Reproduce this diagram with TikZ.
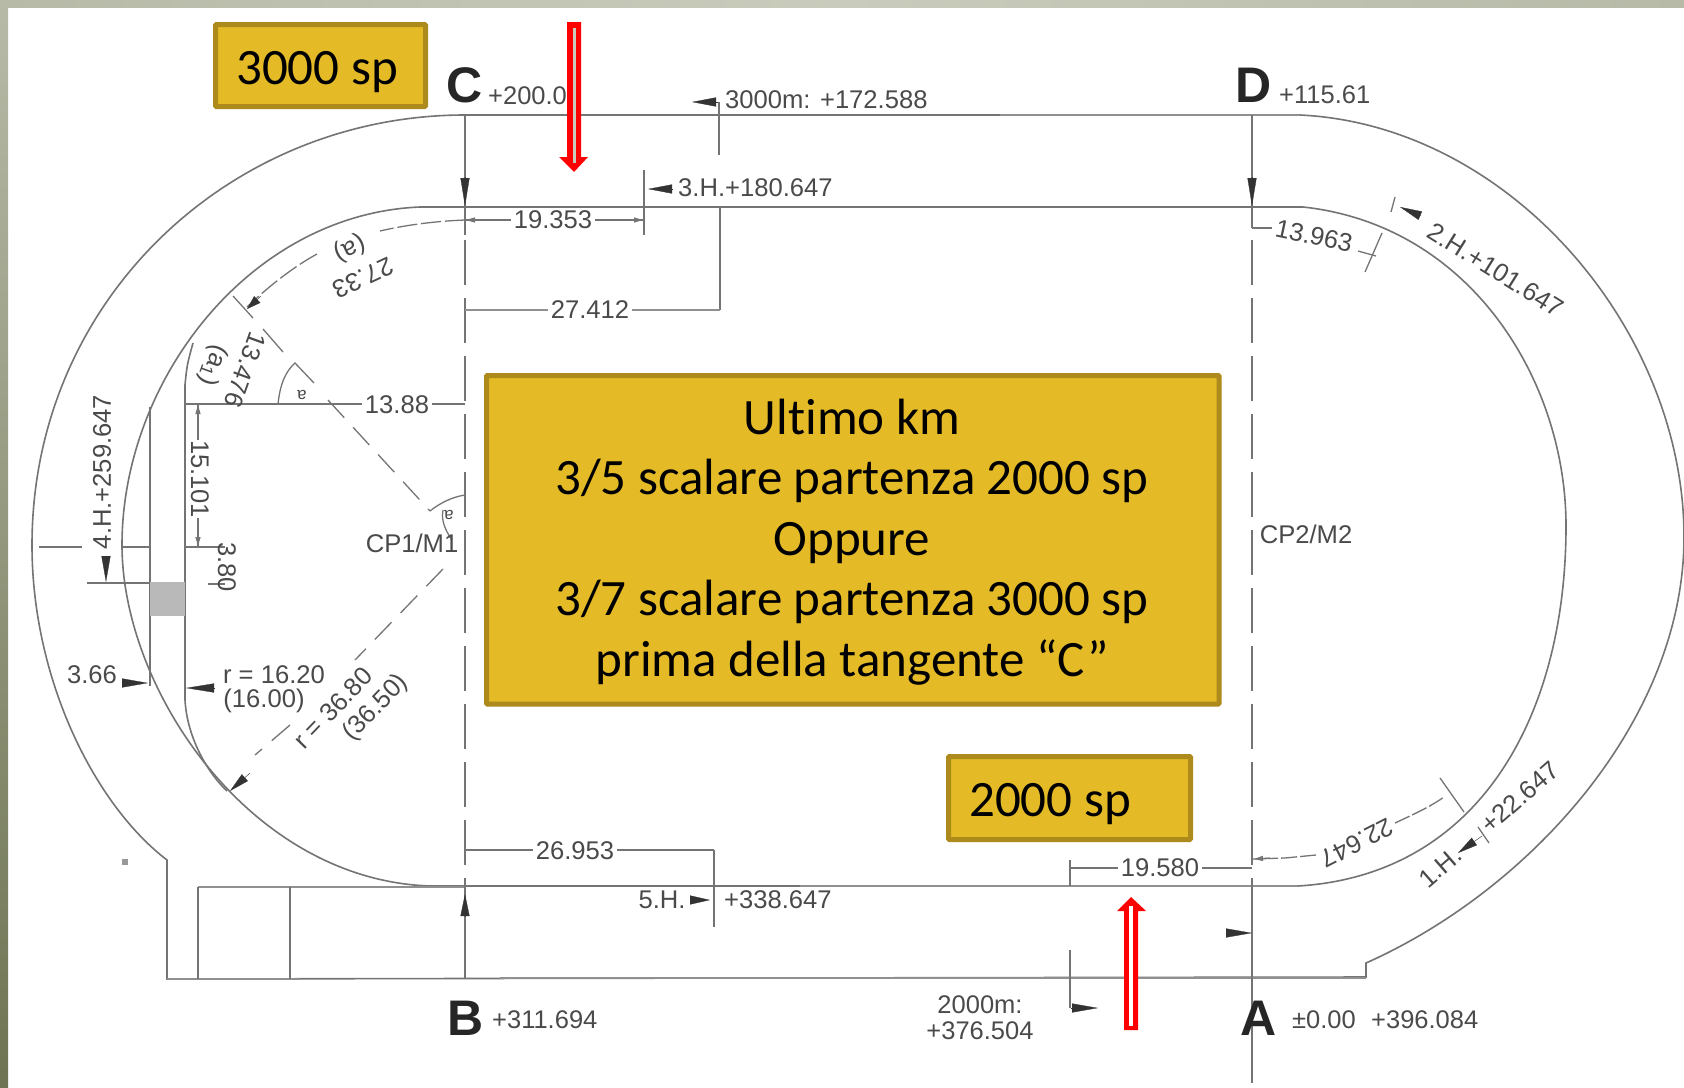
\documentclass[tikz,border=0pt]{standalone}
\usepackage{fontspec}
\setmainfont{Liberation Sans}
\newfontfamily\boxfont[Ligatures=NoCommon]{Carlito}
\usetikzlibrary{arrows.meta}
\definecolor{lbltxt}{HTML}{4A4A4A}
\definecolor{trackline}{HTML}{747474}
\definecolor{boxfill}{HTML}{E4BB27}
\definecolor{boxedge}{HTML}{AC8A1C}
\definecolor{bandtop}{HTML}{B7BAA7}
\definecolor{bandmid}{HTML}{C9CBBC}
\definecolor{bandbot}{HTML}{6E7453}
\tikzset{
 x=1pt,y=-1pt,
 lbl/.style={font=\fontsize{25.6}{28}\selectfont,text=lbltxt,inner sep=0pt},
 smalllbl/.style={font=\fontsize{25.5}{28}\selectfont,text=lbltxt,inner sep=0pt},
 letter/.style={font=\fontsize{50}{50}\selectfont\bfseries,text=black!85,inner sep=0pt},
 track/.style={draw=trackline,line width=1.6pt},
 thin line/.style={draw=trackline,line width=1.3pt},
 heavy line/.style={draw=trackline!80,line width=2.6pt},
 axis line/.style={draw=trackline,line width=1.4pt,dash pattern=on 45pt off 13pt},
 radial/.style={draw=trackline,line width=1.3pt,dash pattern=on 24pt off 13pt},
 wedgetip/.style={draw=black!80,fill=black!80,line width=0.3pt,-{Triangle[length=#1,width=9pt]}},
 wedgetip/.default=24pt,
 smalltip/.style={draw=trackline,line width=1.2pt,-{Triangle[length=9pt,width=5pt]}},
 yellowbox/.style={draw=boxedge,fill=boxfill,line width=5pt,rounded corners=1pt},
 boxtext/.style={font=\boxfont\fontsize{51}{60.6}\selectfont,text=black,inner sep=0pt}
}
\begin{document}
\begin{tikzpicture}
\path[use as bounding box] (0,0) rectangle (1684,1087);
\fill[white] (0,0) rectangle (1684,1087);
% slide frame
\shade[top color=bandtop,bottom color=bandbot] (0,0) rectangle (8,1087);
\shade[left color=bandtop,right color=bandtop,middle color=bandmid] (0,0) rectangle (1684,7);
% outer track
\draw[track] (1300,115) -- (465,115) .. controls (230,115) and (32,300) .. (32,545) .. controls (32,680) and (95,805) .. (167,860) -- (167,979) -- (1366,977) -- (1366,963) .. controls (1530,890) and (1684,720) .. (1684,537) .. controls (1684,330) and (1510,125) .. (1300,115);
\draw[heavy line,line width=1.8pt] (1000,115) -- (1300,115);
% inner track
\draw[track] (1303,207) -- (420,207) .. controls (250,214) and (122,380) .. (122,545) .. controls (122,690) and (250,880) .. (430,886) -- (1298,886) .. controls (1480,875) and (1566,715) .. (1566,526) .. controls (1566,380) and (1470,225) .. (1303,207);
\draw[heavy line] (800,886) -- (1298,886);
\draw[heavy line] (167,979) -- (300,979);
\draw[heavy line] (500,978) -- (1366,978);
% inner lane
\draw[track] (193,343) .. controls (187,365) .. (185,385) -- (185,700) .. controls (187,735) and (205,770) .. (227,791);
\draw[thin line] (150,407) -- (150,686);
\fill[gray!55] (150,582) rectangle (185,616);
\draw[heavy line] (198,887) -- (465,887);
\draw[thin line] (198,887) -- (198,979);
\draw[thin line] (290,887) -- (290,979);
\fill[gray!80] (122,859) rectangle (128,865);
% axes
\draw[thin line] (465,115) -- (465,235);
\draw[axis line] (465,240) -- (465,886);
\draw[thin line] (465,886) -- (465,979);
\draw[thin line] (1252,115) -- (1252,228);
\draw[axis line] (1252,240) -- (1252,886);
\draw[thin line] (1252,886) -- (1252,1083);
% top dimensions
\draw[thin line] (719,102) -- (719,155);
\draw[thin line] (720,207) -- (720,310);
\draw[heavy line,line width=2pt] (465,310) -- (720,310);
\draw[thin line] (644,170) -- (644,235);
\draw[thin line] (465,220) -- (644,220);
\draw[smalltip] (480,220) -- (466,220);
\draw[smalltip] (630,220) -- (643,220);
\draw[wedgetip] (718,102) -- (692,102);
\draw[wedgetip] (672,189) -- (648,189);
\draw[wedgetip=28pt] (465,177) -- (465,206);
\draw[wedgetip=28pt] (1252,177) -- (1252,206);
% arc dimension at C
\draw[radial,dash pattern=on 20pt off 4pt] (465,220) .. controls (440,221) and (410,224) .. (380,231);
\draw[radial,dash pattern=on 20pt off 4pt] (317,254) .. controls (295,266) and (270,285) .. (247,307);
\draw[wedgetip=14pt] (261,296) -- (247,309);
\draw[thin line] (233,296) -- (253,318);
\draw[thin line] (263,329) -- (283,352);
\draw[thin line] (185,404) -- (465,404);
\draw[thin line] (278,404) .. controls (280,385) and (285,372) .. (295,363) -- (314,383);
\draw[radial] (328,400) -- (430,511);
\draw[thin line] (430,511) .. controls (440,503) and (452,497) .. (465,495);
\draw[thin line] (443,510) .. controls (441,520) and (445,530) .. (452,540);
\draw[radial] (443,569) -- (355,660);
\draw[radial] (290,725) -- (255,755);
\draw[wedgetip=20pt] (250,773) -- (230,791);
% left dimensions
\draw[thin line] (198,404) -- (198,547);
\draw[smalltip] (198,420) -- (198,405);
\draw[smalltip] (198,532) -- (198,546);
\draw[thin line] (39,547) -- (82,547);
\draw[thin line] (123,547) -- (150,547);
\draw[thin line] (185,547) -- (225,547);
\draw[thin line] (208,584) -- (225,584);
\draw[thin line] (87,583) -- (150,583);
\draw[wedgetip=26pt] (106,556) -- (106,582);
\draw[wedgetip=26pt] (122,683) -- (148,683);
\draw[wedgetip=28pt] (214,688) -- (186,688);
% right dimensions
\draw[thin line] (1252,228) -- (1272,228);
\draw[thin line] (1358,251) -- (1376,256);
\draw[thin line] (1382,233) -- (1365,272);
\draw[thin line] (1395,197) -- (1391,212);
\draw[wedgetip=22pt] (1421,216) -- (1400,207);
% bottom dimensions
\draw[thin line] (465,850) -- (714,850);
\draw[thin line] (714,850) -- (714,927);
\draw[wedgetip=20pt] (690,900) -- (710,900);
\draw[wedgetip=22pt] (465,916) -- (465,894);
\draw[thin line] (1070,868) -- (1252,868);
\draw[thin line] (1070,860) -- (1070,886);
\draw[thin line] (1070,950) -- (1070,1008);
\draw[wedgetip=26pt] (1071,1008) -- (1098,1008);
\draw[wedgetip=26pt] (1226,933) -- (1252,933);
\draw[radial,dash pattern=on 16pt off 3pt] (1316,855) -- (1285,858) -- (1253,859);
\draw[smalltip] (1270,858) -- (1254,859);
\draw[radial,dash pattern=on 16pt off 3pt] (1395,823) .. controls (1412,815) and (1430,807) .. (1444,797);
\draw[thin line] (1440,778) -- (1464,812);
\draw[wedgetip=20pt] (1482,836) -- (1458,853);
\draw[thin line] (1478,827) -- (1489,843);
% labels
\node[letter] (lC) at (465,85) {C};
\node[letter] (lD) at (1254,85) {D};
\node[letter] (lB) at (466,1018) {B};
\node[letter] (lA) at (1259,1018) {A};
\node[smalllbl,anchor=west] (n200) at (488,96) {+200.00};
\node[smalllbl,anchor=west] (n115) at (1279,95) {+115.61};
\node[smalllbl,anchor=west] (n311) at (492,1020) {+311.694};
\node[smalllbl,anchor=west] (n0) at (1292,1020) {±0.00};
\node[smalllbl,anchor=west] (n396) at (1371,1020) {+396.084};
\node[lbl,anchor=west] (n3000) at (725,100) {3000m: +172.588};
\node[lbl,anchor=west] (n3H) at (678,188) {3.H.+180.647};
\node[lbl,fill=white,inner xsep=3pt] (n19a) at (553,220) {19.353};
\node[lbl,fill=white,inner xsep=3pt] (n27) at (590,310) {27.412};
\node[lbl,fill=white,inner xsep=3pt] (n13a) at (397,405) {13.88};
\node[smalllbl,rotate=205] (n2733) at (363,278) {27.33};
\node[smalllbl,rotate=205] (na) at (350,248) {(a)};
\node[smalllbl,rotate=250] (n1347) at (245,370) {13.476};
\node[smalllbl,rotate=250] (nb) at (213,365) {(a\textsubscript{1})};
\node[font=\fontsize{17}{20}\selectfont,text=lbltxt,inner sep=0pt,rotate=180] (nalpha) at (302,395) {a};
\node[font=\fontsize{17}{20}\selectfont,text=lbltxt,inner sep=0pt,rotate=180] (nalphab) at (449,515) {a};
\node[smalllbl,rotate=-90,fill=white,inner ysep=2pt] (n15) at (200,479) {15.101};
\node[smalllbl,rotate=-90] (n380) at (227,567) {3.80};
\node[lbl,rotate=90] (n4H) at (102,472) {4.H.+259.647};
\node[lbl] (n366) at (92,675) {3.66};
\node[lbl] (n16) at (274,675) {r = 16.20};
\node[lbl] (n1600) at (264,701) {(16.00)};
\node[smalllbl,rotate=46] (n368) at (333,708) {r = 36.80};
\node[smalllbl,rotate=46] (n365) at (376,708) {(36.50)};
\node[lbl] (ncp1) at (412,543) {CP1/M1};
\node[lbl] (ncp2) at (1306,534) {CP2/M2};
\node[smalllbl,rotate=-12] (n13b) at (1314,236) {13.963};
\node[lbl,rotate=-32] (n2H) at (1496,270) {2.H.+101.647};
\node[lbl,fill=white,inner xsep=3pt] (n26) at (575,851) {26.953};
\node[lbl,fill=white,inner xsep=3pt] (n195) at (1160,868) {19.580};
\node[lbl] (n5H) at (662,900) {5.H.};
\node[lbl,anchor=west] (n338) at (724,900) {+338.647};
\node[smalllbl] (n2000) at (980,1005) {2000m:};
\node[smalllbl] (n376) at (980,1031) {+376.504};
\node[smalllbl,rotate=207] (n22) at (1357,843) {22.647};
\node[lbl,rotate=41] (n1H) at (1440,867) {1.H.};
\node[lbl,rotate=41] (n22H) at (1520,797) {+22.647};
% yellow boxes
\draw[yellowbox] (486.5,375.5) rectangle (1219,704);
\node[boxtext,align=center] (maintext) at (852,542) {Ultimo km\\3/5 scalare partenza 2000 sp\\Oppure\\3/7 scalare partenza 3000 sp\\prima della tangente “C”};
\draw[yellowbox] (215.5,24.5) rectangle (425.5,106.5);
\node[boxtext] (box3000) at (317,72) {3000 sp};
\draw[yellowbox] (948.5,756.5) rectangle (1190.5,839.5);
\node[boxtext,anchor=west] (box2000) at (969,804) {2000 sp};
% red arrows
\fill[red] (567,22) -- (581,22) -- (581,157) -- (588,157) -- (574,172) -- (559,157) -- (567,157) -- cycle;
\fill[bandmid] (572.5,28) rectangle (575.5,163);
\fill[red] (1124,1030) -- (1138,1030) -- (1138,911) -- (1146,911) -- (1131,897) -- (1117,911) -- (1124,911) -- cycle;
\fill[white] (1129,1026) rectangle (1133,906);
\end{tikzpicture}
\end{document}
